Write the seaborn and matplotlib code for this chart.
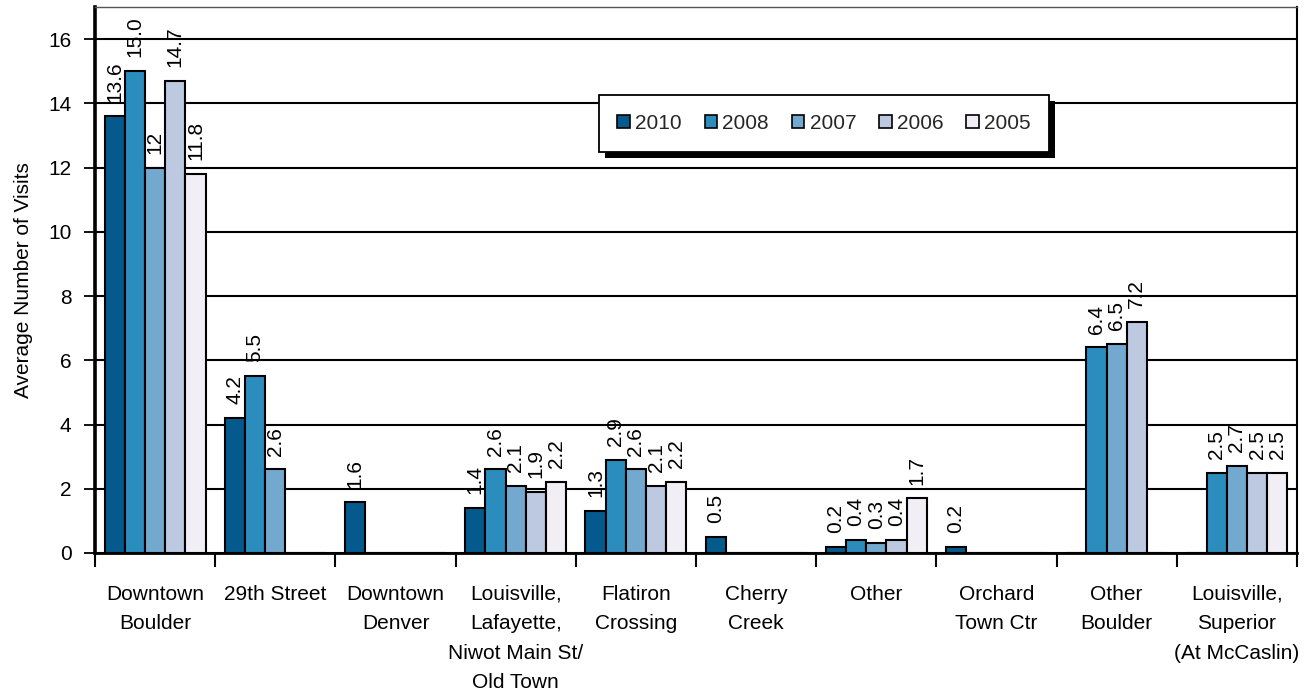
import numpy as np
import pandas as pd
import matplotlib
matplotlib.use("Agg")
import matplotlib.pyplot as plt
from matplotlib.patches import Patch, Rectangle
from matplotlib.ticker import FixedLocator
import seaborn as sns

# Shopping areas (category order on the x axis)
categories = [
    "Downtown Boulder", "29th Street", "Downtown Denver",
    "Louisville, Lafayette, Niwot Main St/Old Town", "Flatiron Crossing",
    "Cherry Creek", "Other", "Orchard Town Ctr", "Other Boulder",
    "Louisville, Superior (At McCaslin)",
]
tick_labels = [
    "Downtown\nBoulder", "29th Street", "Downtown\nDenver",
    "Louisville,\nLafayette,\nNiwot Main St/\nOld Town", "Flatiron\nCrossing",
    "Cherry\nCreek", "Other", "Orchard\nTown Ctr", "Other\nBoulder",
    "Louisville,\nSuperior\n(At McCaslin)",
]
years = ["2010", "2008", "2007", "2006", "2005"]

# Average number of visits per survey year
v2010 = [13.6, 4.2, 1.6, 1.4, 1.3, 0.5, 0.2, 0.2, 0.0, 0.0]
v2008 = [15.0, 5.5, 0.0, 2.6, 2.9, 0.0, 0.4, 0.0, 6.4, 2.5]
v2007 = [12.0, 2.6, 0.0, 2.1, 2.6, 0.0, 0.3, 0.0, 6.5, 2.7]
v2006 = [14.7, 0.0, 0.0, 1.9, 2.1, 0.0, 0.4, 0.0, 7.2, 2.5]
v2005 = [11.8, 0.0, 0.0, 2.2, 2.2, 0.0, 1.7, 0.0, 0.0, 2.5]
series = [v2010, v2008, v2007, v2006, v2005]

# the 2007 Downtown Boulder value is printed without a decimal
label_overrides = {("Downtown Boulder", "2007"): "12"}

palette = ["#045a8d", "#2b8cbe", "#74a9cf", "#bdc9e1", "#f1eef6"]

rows = []
for year, vals in zip(years, series):
    for cat, v in zip(categories, vals):
        rows.append({"category": cat, "year": year, "visits": v})
df = pd.DataFrame(rows)

sns.set_theme(style="white")
plt.rcParams["font.family"] = ["Liberation Sans", "DejaVu Sans"]

FS = 15

fig = plt.figure(figsize=(13.09, 7.0), dpi=100)
ax = fig.add_axes([0.0726, 0.21, 0.9182, 0.78])

sns.barplot(
    data=df, x="category", y="visits", hue="year",
    order=categories, hue_order=years, palette=palette, saturation=1,
    width=0.84, edgecolor="black", linewidth=1.5, errorbar=None,
    ax=ax, zorder=3, legend=False,
)

# rotated value labels above every non-zero bar
for container, year, vals in zip(ax.containers, years, series):
    labels = []
    for cat, v in zip(categories, vals):
        if v == 0:
            labels.append("")
        else:
            labels.append(label_overrides.get((cat, year), f"{v:.1f}"))
    ax.bar_label(container, labels=labels, rotation=90, padding=10,
                 fontsize=FS, color="black")

ax.set_xlim(-0.5, len(categories) - 0.5)
ax.set_ylim(0, 17)
ax.set_yticks(np.arange(0, 17, 2))
ax.set_xticks(np.arange(len(categories)))
ax.set_xticklabels(tick_labels, fontsize=FS, linespacing=1.7)
ax.xaxis.set_minor_locator(FixedLocator(np.arange(-0.5, len(categories), 1)))
ax.tick_params(axis="x", which="major", length=0, pad=23, colors="black")
ax.tick_params(axis="x", which="minor", length=10, width=1.5,
               direction="out", color="black", bottom=True)
ax.tick_params(axis="y", which="major", length=8, width=1.3, direction="out",
               pad=9, labelsize=FS, colors="black", left=True)
ax.set_xlabel("")
ax.set_ylabel("Average Number of Visits", fontsize=FS, labelpad=11,
              color="black")

ax.set_axisbelow(True)
ax.yaxis.grid(True, color="black", linewidth=1.5)
ax.xaxis.grid(False)

for side, lw, col in [("left", 2.6, "black"), ("bottom", 2.0, "black"),
                      ("right", 1.5, "black"), ("top", 1.0, "#555555")]:
    ax.spines[side].set_visible(True)
    ax.spines[side].set_linewidth(lw)
    ax.spines[side].set_color(col)

handles = [Patch(facecolor=c, edgecolor="black", linewidth=1.2) for c in palette]
leg = ax.legend(
    handles, years, ncol=5, loc="center", bbox_to_anchor=(0.6065, 0.7866),
    frameon=True, fancybox=False, edgecolor="black", framealpha=1,
    fontsize=FS, handlelength=0.6, handleheight=0.6, handletextpad=0.25,
    columnspacing=1.1, borderpad=0.9,
)
leg.get_frame().set_linewidth(1.3)
leg.set_zorder(6)

# solid drop shadow behind the legend box
fig.canvas.draw()
bb = leg.get_window_extent().transformed(ax.transAxes.inverted())
dx = 6 / (ax.bbox.width)
dy = 6 / (ax.bbox.height)
shadow = Rectangle((bb.x0 + dx, bb.y0 - dy), bb.width, bb.height,
                   transform=ax.transAxes, facecolor="black",
                   edgecolor="none", zorder=5.5, clip_on=False)
ax.add_patch(shadow)

fig.savefig("out.png", dpi=100)
